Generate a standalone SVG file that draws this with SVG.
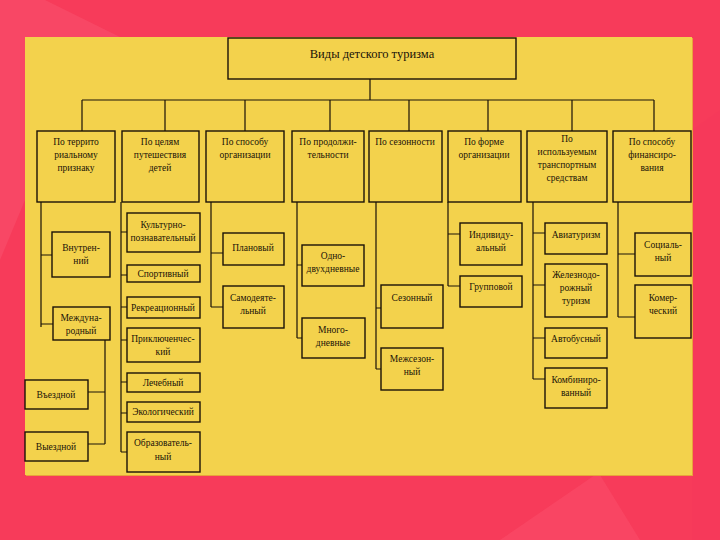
<svg xmlns="http://www.w3.org/2000/svg" width="720" height="540" viewBox="0 0 720 540">
<defs>
<style>
.b{fill:#F3D24C;stroke:#1a1208;stroke-width:1.4}
.c{fill:none;stroke:#1a1208;stroke-width:1.2}
text{font-family:"Liberation Serif","DejaVu Serif",serif;font-size:9.5px;fill:#1a1208;text-anchor:middle}
.t{font-size:12.5px}
</style>
</defs>
<rect x="0" y="0" width="720" height="540" fill="#F73B5A"/>
<polygon points="0,0 45,0 120,37 25,37 25,200 0,260" fill="#F9506C" opacity="0.6"/>
<polygon points="600,475 640,540 500,540 595,475" fill="#F94A66" opacity="0.7"/>
<polygon points="692,130 720,110 720,540 692,540" fill="#F5395A" opacity="0.6"/>
<rect x="26" y="38" width="667" height="438" fill="#E8A33C"/>
<rect x="25" y="37" width="667" height="438" fill="#F3D24C"/>

<g id="connectors" class="c">
<path d="M370,79V100M82,100H654M82,100V131M165,100V131M245,100V131M330,100V131M409,100V131M488,100V131M572,100V131M654,100V131"/>
<path d="M41,202V327M41,255H52M41,324H53M105,340V444M105,392H88M105,444H88"/>
<path d="M121,202V452M121,232H127M121,275H127M121,307H127M121,340H127M121,382H127M121,413H127M121,452H127"/>
<path d="M211,202V307M211,253H223M211,307H223"/>
<path d="M297,202V338M297,265H302M297,338H302"/>
<path d="M376,202V369M376,308H381M376,369H381"/>
<path d="M448,202V286M448,234H460M448,286H460"/>
<path d="M533,202V379M533,233H545M533,285H545M533,338H545M533,379H545"/>
<path d="M618,202V317M618,254H635M618,317H635"/>
</g>

<g id="title"><rect class="b" x="228" y="38" width="288" height="41"/><text class="t" x="372" y="58">Виды детского туризма</text></g>

<g id="h1"><rect class="b" x="37" y="131" width="78" height="71"/><text x="76" y="145">По террито</text><text x="76" y="158">риальному</text><text x="76" y="171">признаку</text></g>
<g id="h2"><rect class="b" x="122" y="131" width="77" height="71"/><text x="160" y="145">По целям</text><text x="160" y="158">путешествия</text><text x="160" y="171">детей</text></g>
<g id="h3"><rect class="b" x="206" y="131" width="78" height="71"/><text x="245" y="145">По способу</text><text x="245" y="158">организации</text></g>
<g id="h4"><rect class="b" x="292" y="131" width="72" height="71"/><text x="328" y="145">По продолжи-</text><text x="328" y="158">тельности</text></g>
<g id="h5"><rect class="b" x="369" y="131" width="73" height="71"/><text x="405" y="145">По сезонности</text></g>
<g id="h6"><rect class="b" x="448" y="131" width="73" height="71"/><text x="484" y="145">По форме</text><text x="484" y="158">организации</text></g>
<g id="h7"><rect class="b" x="527" y="131" width="80" height="71"/><text x="567" y="142">По</text><text x="567" y="155">используемым</text><text x="567" y="168">транспортным</text><text x="567" y="181">средствам</text></g>
<g id="h8"><rect class="b" x="613" y="131" width="78" height="71"/><text x="652" y="145">По способу</text><text x="652" y="158">финансиро-</text><text x="652" y="171">вания</text></g>

<g id="n1a"><rect class="b" x="52" y="232" width="58" height="45"/><text x="81" y="251">Внутрен-</text><text x="81" y="264">ний</text></g>
<g id="n1b"><rect class="b" x="53" y="307" width="57" height="33"/><text x="81" y="321">Междуна-</text><text x="81" y="334">родный</text></g>
<g id="n1c"><rect class="b" x="25" y="380" width="63" height="29"/><text x="56" y="398">Въездной</text></g>
<g id="n1d"><rect class="b" x="25" y="432" width="63" height="29"/><text x="56" y="450">Выездной</text></g>

<g id="n2a"><rect class="b" x="127" y="213" width="73" height="39"/><text x="163" y="228">Культурно-</text><text x="163" y="241">познавательный</text></g>
<g id="n2b"><rect class="b" x="127" y="265" width="73" height="17"/><text x="163" y="277">Спортивный</text></g>
<g id="n2c"><rect class="b" x="127" y="297" width="73" height="21"/><text x="163" y="311">Рекреационный</text></g>
<g id="n2d"><rect class="b" x="127" y="328" width="73" height="34"/><text x="163" y="342">Приключенчес-</text><text x="163" y="355">кий</text></g>
<g id="n2e"><rect class="b" x="127" y="373" width="73" height="19"/><text x="163" y="386">Лечебный</text></g>
<g id="n2f"><rect class="b" x="127" y="402" width="73" height="20"/><text x="163" y="415">Экологический</text></g>
<g id="n2g"><rect class="b" x="127" y="432" width="73" height="40"/><text x="163" y="446">Образователь-</text><text x="163" y="460">ный</text></g>

<g id="n3a"><rect class="b" x="223" y="233" width="61" height="32"/><text x="253" y="251">Плановый</text></g>
<g id="n3b"><rect class="b" x="223" y="286" width="61" height="42"/><text x="253" y="301">Самодеяте-</text><text x="253" y="314">льный</text></g>

<g id="n4a"><rect class="b" x="302" y="245" width="62" height="41"/><text x="333" y="259">Одно-</text><text x="333" y="272">двухдневные</text></g>
<g id="n4b"><rect class="b" x="302" y="318" width="63" height="40"/><text x="333" y="333">Много-</text><text x="333" y="346">дневные</text></g>

<g id="n5a"><rect class="b" x="381" y="285" width="62" height="43"/><text x="412" y="301">Сезонный</text></g>
<g id="n5b"><rect class="b" x="381" y="348" width="62" height="42"/><text x="412" y="362">Межсезон-</text><text x="412" y="375">ный</text></g>

<g id="n6a"><rect class="b" x="460" y="223" width="62" height="42"/><text x="491" y="238">Индивиду-</text><text x="491" y="251">альный</text></g>
<g id="n6b"><rect class="b" x="460" y="276" width="62" height="31"/><text x="491" y="290">Групповой</text></g>

<g id="n7a"><rect class="b" x="545" y="223" width="62" height="31"/><text x="576" y="238">Авиатуризм</text></g>
<g id="n7b"><rect class="b" x="545" y="264" width="62" height="53"/><text x="576" y="278">Железнодо-</text><text x="576" y="291">рожный</text><text x="576" y="304">туризм</text></g>
<g id="n7c"><rect class="b" x="545" y="328" width="62" height="30"/><text x="576" y="342">Автобусный</text></g>
<g id="n7d"><rect class="b" x="545" y="368" width="62" height="40"/><text x="576" y="383">Комбиниро-</text><text x="576" y="396">ванный</text></g>

<g id="n8a"><rect class="b" x="635" y="233" width="56" height="43"/><text x="663" y="248">Социаль-</text><text x="663" y="261">ный</text></g>
<g id="n8b"><rect class="b" x="635" y="285" width="56" height="53"/><text x="663" y="301">Комер-</text><text x="663" y="314">ческий</text></g>
</svg>
